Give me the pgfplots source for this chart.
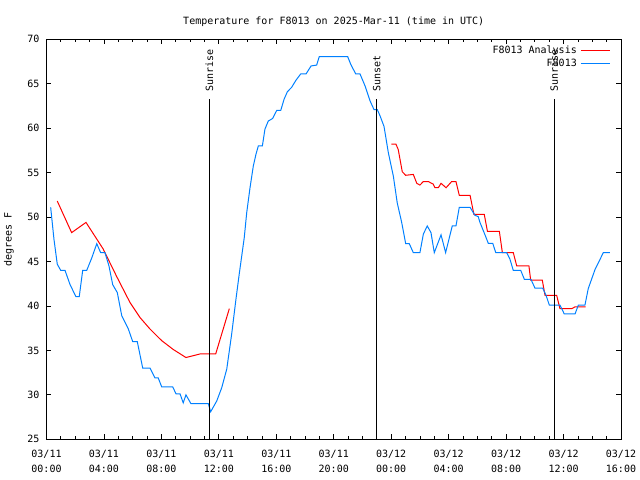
\documentclass[border=0pt]{standalone}
\usepackage{pgfplots}
\pgfplotsset{compat=1.18}
\usepackage{fontspec}
\setmainfont{DejaVu Sans Mono}
\definecolor{obsblue}{RGB}{0,128,255}
\newcommand{\tl}[2]{\vbox{\baselineskip=15bp\lineskiplimit=-20bp\hbox{#1}\hbox{#2}}}
\begin{document}
\begin{tikzpicture}
\useasboundingbox (-46.5bp,-40.7bp) rectangle (593.5bp,439.3bp);
\begin{axis}[
 at={(0,0)}, anchor=south west,
 scale only axis, width=574.5bp, height=400bp,
 xmin=0, xmax=40, ymin=25, ymax=70,
 xtick={0,4,...,40},
 xticklabels={{\tl{03/11}{00:00}},{\tl{03/11}{04:00}},{\tl{03/11}{08:00}},{\tl{03/11}{12:00}},{\tl{03/11}{16:00}},{\tl{03/11}{20:00}},{\tl{03/12}{00:00}},{\tl{03/12}{04:00}},{\tl{03/12}{08:00}},{\tl{03/12}{12:00}},{\tl{03/12}{16:00}}},
 minor x tick num=3,
 ytick={25,30,...,70},
 tick align=inside,
 major tick length=5bp, minor tick length=3bp,
 tick style={black, line width=0.8bp},
 axis line style={line width=1bp},
 /pgf/number format/assume math mode=true,
 ticklabel style={font=\fontsize{10bp}{12bp}\selectfont},
 xticklabel style={inner sep=0pt, anchor=north, yshift=-10.5bp},
 yticklabel style={inner sep=0pt, anchor=east, xshift=-7bp},
 title={Temperature for F8013 on 2025-Mar-11 (time in UTC)},
 title style={at={(axis description cs:0.5,1)}, anchor=center, yshift=11.3bp, font=\fontsize{10bp}{12bp}\selectfont, inner sep=0pt},
 ylabel={degrees F},
 ylabel style={at={(axis description cs:-0.0653,0.5)}, anchor=center, font=\fontsize{10bp}{12bp}\selectfont, inner sep=0pt},
 legend plot pos=right,
 legend cell align=right,
 legend style={at={(axis description cs:1,1)}, anchor=north east, xshift=-10.5bp, yshift=-6.5bp, draw=none, fill=none, inner sep=0pt, font=\fontsize{10bp}{12bp}\selectfont, nodes={inner xsep=3.5bp, inner ysep=0pt, text height=7.5bp, text depth=2.5bp}, row sep=3bp},
 legend image code/.code={\draw[#1] (0bp,0bp) -- (29bp,0bp);},
]
\addplot[red, line width=1bp, unbounded coords=jump] coordinates {
(0.75,51.8)(1.75,48.25)(2.75,49.4)(3.95,46.4)(4.89,43.3)(5.81,40.4)(6.51,38.7)(7.21,37.4)(8.02,36.1)(8.83,35.1)(9.71,34.2)(10.69,34.6)(11.78,34.6)(12.73,39.7)
(18,nan)
(24.01,58.2)(24.33,58.2)(24.49,57.6)(24.77,55.1)(25.01,54.7)(25.54,54.8)(25.78,53.8)(26.0,53.6)(26.24,54.0)(26.58,54.0)(26.93,53.7)(27.05,53.3)(27.28,53.3)(27.47,53.8)(27.82,53.3)(28.21,54.0)(28.51,54.0)(28.74,52.45)(29.49,52.45)(29.76,50.3)(30.48,50.3)(30.70,48.4)(31.53,48.4)(31.74,46.0)(32.5,46.0)(32.74,44.5)(33.59,44.5)(33.71,42.9)(34.52,42.9)(34.71,41.2)(35.52,41.2)(35.75,39.7)(36.57,39.7)(36.80,39.9)(37.54,39.9)
};
\addlegendentry{F8013 Analysis}
\addplot[obsblue, line width=1bp] coordinates {
(0.29,51.1)(0.52,47.5)(0.75,44.7)(0.99,44.0)(1.29,44.0)(1.64,42.4)(2.05,41.05)(2.28,41.05)(2.52,44.0)(2.80,44.0)(3.15,45.4)(3.50,47.0)(3.77,46.0)(4.07,46.0)(4.35,44.5)(4.61,42.4)(4.93,41.5)(5.24,38.9)(5.70,37.4)(6.00,36.0)(6.32,36.0)(6.70,33.0)(7.21,33.0)(7.55,31.9)(7.78,31.9)(8.02,30.9)(8.79,30.9)(9.02,30.1)(9.30,30.1)(9.52,29.1)(9.71,30.0)(10.06,29.0)(11.27,29.0)(11.43,28.1)(11.85,29.3)(12.20,30.8)(12.55,32.9)(12.89,36.8)(13.19,40.75)(13.42,43.6)(13.77,47.7)(13.94,50.5)(14.17,53.3)(14.40,55.75)(14.59,57.1)(14.75,58.0)(15.03,58.0)(15.21,59.9)(15.44,60.8)(15.75,61.1)(16.03,62.0)(16.31,62.0)(16.54,63.25)(16.77,64.1)(17.07,64.6)(17.37,65.4)(17.70,66.1)(18.07,66.1)(18.42,67.0)(18.81,67.1)(18.99,68.05)(20.97,68.05)(21.18,67.2)(21.53,66.1)(21.83,66.1)(22.18,64.75)(22.52,63.1)(22.80,62.1)(23.03,62.1)(23.22,61.4)(23.50,60.2)(23.80,57.25)(24.15,54.6)(24.42,51.6)(24.73,49.4)(25.01,47.0)(25.26,47.0)(25.54,46.0)(26.0,46.0)(26.24,48.1)(26.51,49.0)(26.77,48.25)(27.0,46.0)(27.47,48.0)(27.79,46.0)(28.25,49.0)(28.51,49.0)(28.74,51.1)(29.49,51.1)(29.83,50.2)(30.06,50.05)(30.18,49.4)(30.53,48.0)(30.76,47.05)(31.07,47.05)(31.28,46.0)(32.04,46.0)(32.27,45.25)(32.5,44.0)(33.02,44.0)(33.27,43.0)(33.73,43.0)(34.01,42.0)(34.55,42.0)(34.78,41.2)(35.01,40.1)(35.75,40.1)(36.05,39.1)(36.80,39.1)(37.03,40.1)(37.49,40.1)(37.72,41.95)(38.19,44.1)(38.77,46.0)(39.23,46.0)
};
\addlegendentry{F8013}
\addplot[black, line width=1bp, forget plot] coordinates {(11.35,25) (11.35,63.25)};
\addplot[black, line width=1bp, forget plot] coordinates {(22.99,25) (22.99,63.25)};
\addplot[black, line width=1bp, forget plot] coordinates {(35.34,25) (35.34,63.25)};
\node[rotate=90, anchor=west, inner sep=0pt, font=\fontsize{10bp}{12bp}\selectfont] at (axis cs:11.35,64.07) {Sunrise};
\node[rotate=90, anchor=west, inner sep=0pt, font=\fontsize{10bp}{12bp}\selectfont] at (axis cs:22.99,64.07) {Sunset};
\node[rotate=90, anchor=west, inner sep=0pt, font=\fontsize{10bp}{12bp}\selectfont] at (axis cs:35.34,64.07) {Sunrise};
\end{axis}
\end{tikzpicture}
\end{document}
